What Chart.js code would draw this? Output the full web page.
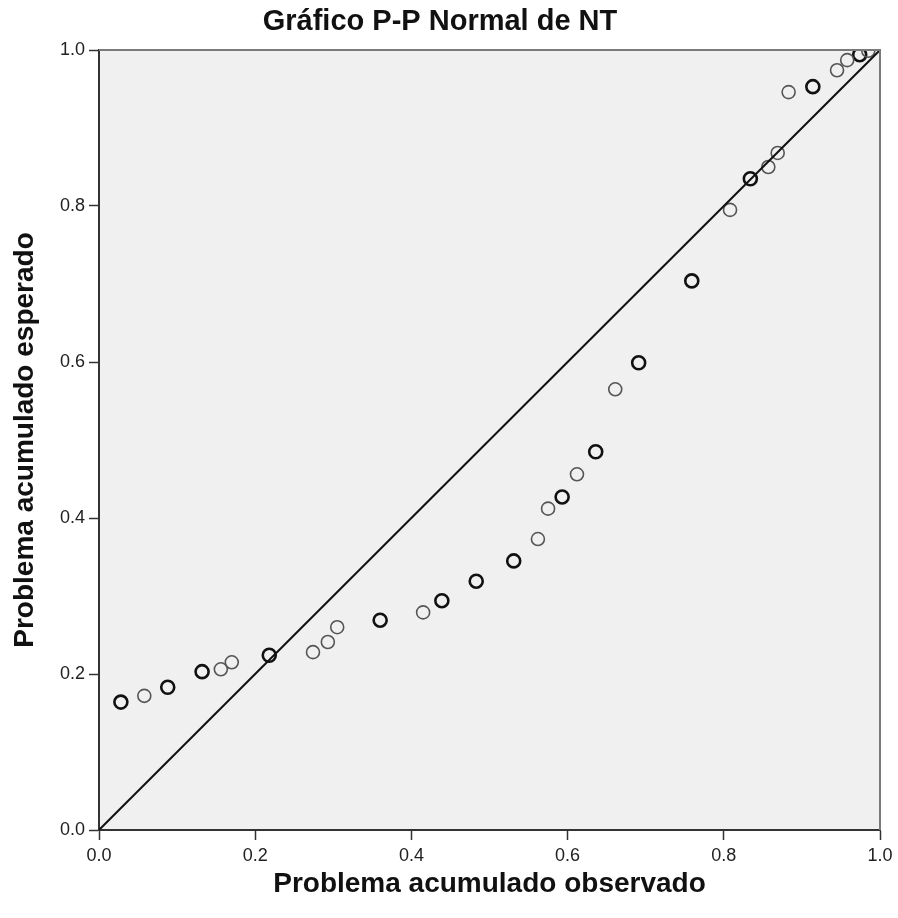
<!DOCTYPE html>
<html>
<head>
<meta charset="utf-8">
<script src="https://cdn.jsdelivr.net/npm/chart.js@4"></script>
<style>
  html, body { margin: 0; padding: 0; background: #fff; }
  #wrap { width: 898px; height: 918px; }
</style>
</head>
<body>
<div id="wrap"><canvas id="pp"></canvas></div>
<script>
// observed vs expected cumulative probability, single cases (thin rings)
const singleObs = [0.058, 0.156, 0.170, 0.274, 0.293, 0.305, 0.415, 0.562, 0.575, 0.612, 0.661, 0.808, 0.857, 0.869, 0.883, 0.945, 0.958, 0.985];
const singleExp = [0.172, 0.206, 0.215, 0.228, 0.241, 0.260, 0.279, 0.373, 0.412, 0.456, 0.565, 0.795, 0.850, 0.868, 0.946, 0.974, 0.987, 0.999];
// tied cases (drawn darker)
const tiedObs = [0.028, 0.088, 0.132, 0.218, 0.360, 0.439, 0.483, 0.531, 0.593, 0.636, 0.691, 0.759, 0.834, 0.914, 0.974];
const tiedExp = [0.164, 0.183, 0.203, 0.224, 0.269, 0.294, 0.319, 0.345, 0.427, 0.485, 0.599, 0.704, 0.835, 0.953, 0.994];
const refLine = [0, 1];
const tickValues = [0, 0.2, 0.4, 0.6, 0.8, 1.0];

const FONT = "'Liberation Sans Narrow', 'Arial Narrow', 'Liberation Sans', Arial, sans-serif";

const toPoints = (xs, ys) => xs.map((x, i) => ({ x, y: ys[i] }));

const plotBg = {
  id: "plotBg",
  beforeDraw(chart) {
    const { ctx, chartArea: a } = chart;
    ctx.save();
    ctx.fillStyle = "#f0f0f0";
    ctx.fillRect(a.left, a.top, a.right - a.left, a.bottom - a.top);
    ctx.restore();
  },
  afterDatasetsDraw(chart) {
    const { ctx, chartArea: a } = chart;
    ctx.save();
    ctx.strokeStyle = "#7a7a7a";
    ctx.lineWidth = 2;
    ctx.beginPath();
    ctx.moveTo(a.left, a.top);
    ctx.lineTo(a.right, a.top);
    ctx.lineTo(a.right, a.bottom);
    ctx.stroke();
    ctx.restore();
  }
};

new Chart(document.getElementById("pp"), {
  type: "scatter",
  data: {
    datasets: [
      {
        type: "line",
        data: toPoints(refLine, refLine),
        borderColor: "#111",
        borderWidth: 2,
        pointRadius: 0,
        fill: false
      },
      {
        data: toPoints(singleObs, singleExp),
        pointRadius: 6.5,
        pointBorderWidth: 1.6,
        pointBorderColor: "#555",
        pointBackgroundColor: "rgba(0,0,0,0)"
      },
      {
        data: toPoints(tiedObs, tiedExp),
        pointRadius: 6.5,
        pointBorderWidth: 2.6,
        pointBorderColor: "#111",
        pointBackgroundColor: "rgba(0,0,0,0)"
      }
    ]
  },
  options: {
    responsive: true,
    maintainAspectRatio: false,
    animation: false,
    layout: { padding: { left: 0, right: 18, top: 0, bottom: 0 } },
    plugins: {
      legend: { display: false },
      tooltip: { enabled: false },
      title: {
        display: true,
        text: "Gráfico P-P Normal de NT",
        color: "#111",
        font: { family: FONT, size: 29, weight: "bold" },
        padding: { top: 5, bottom: 10.2 }
      }
    },
    scales: {
      x: {
        type: "linear",
        min: 0, max: 1,
        afterBuildTicks: s => { s.ticks = tickValues.map(v => ({ value: v })); },
        afterFit: s => { s.height = 88; },
        ticks: {
          color: "#222",
          font: { family: FONT, size: 18 },
          padding: 5,
          callback: v => v.toFixed(1)
        },
        grid: { drawOnChartArea: false, drawTicks: true, tickLength: 10, color: "#333", tickWidth: 1.5 },
        border: { display: true, color: "#333", width: 2 },
        title: {
          display: true,
          text: "Problema acumulado observado",
          color: "#111",
          font: { family: FONT, size: 28, weight: "bold" },
          padding: { top: 0, bottom: 17 }
        }
      },
      y: {
        type: "linear",
        min: 0, max: 1,
        afterBuildTicks: s => { s.ticks = tickValues.map(v => ({ value: v })); },
        afterFit: s => { s.width = 99; },
        ticks: {
          color: "#222",
          font: { family: FONT, size: 18 },
          padding: 4,
          callback: v => v.toFixed(1)
        },
        grid: { drawOnChartArea: false, drawTicks: true, tickLength: 10, color: "#333", tickWidth: 1.5 },
        border: { display: true, color: "#333", width: 2 },
        title: {
          display: true,
          text: "Problema acumulado esperado",
          color: "#111",
          font: { family: FONT, size: 28, weight: "bold" },
          padding: { top: 8, bottom: 0 }
        }
      }
    }
  },
  plugins: [plotBg]
});
</script>
</body>
</html>
